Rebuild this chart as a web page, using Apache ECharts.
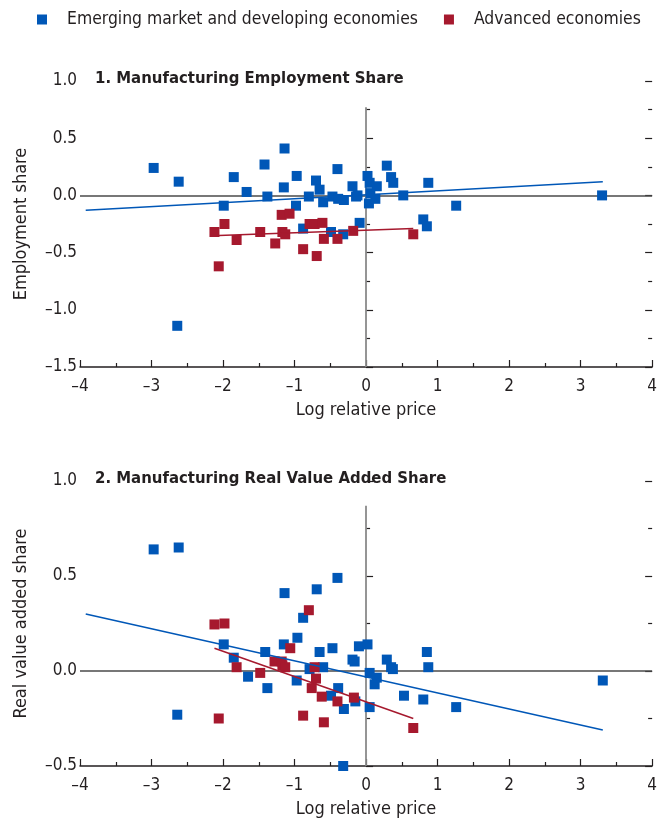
<!DOCTYPE html>
<html><head><meta charset="utf-8">
<script src="https://cdn.jsdelivr.net/npm/echarts@6/dist/echarts.min.js"></script>
<style>html,body{margin:0;padding:0;background:#fff}#c{width:660px;height:825px}</style>
</head><body><div id="c"></div>
<script>
// ---- data ----
const seriesNames = ['Emerging market and developing economies', 'Advanced economies'];
const panelTitles = ['1. Manufacturing Employment Share', '2. Manufacturing Real Value Added Share'];
const yNames = ['Employment share', 'Real value added share'];
const xName = 'Log relative price';

const empEM = [[-2.97,0.24],[-2.62,0.12],[-2.64,-1.14],[-1.99,-0.09],[-1.85,0.16],[-1.67,0.03],[-1.42,0.27],[-1.38,-0.01],[-1.14,0.41],[-1.15,0.07],[-0.97,0.17],[-0.98,-0.09],[-0.88,-0.29],[-0.80,-0.01],[-0.70,0.13],[-0.65,0.05],[-0.60,-0.06],[-0.49,-0.32],[-0.47,-0.01],[-0.40,0.23],[-0.39,-0.03],[-0.32,-0.34],[-0.31,-0.04],[-0.19,0.08],[-0.14,-0.01],[-0.12,0.00],[-0.09,-0.24],[0.02,0.17],[0.05,0.11],[0.06,0.02],[0.04,-0.07],[0.13,-0.03],[0.15,0.08],[0.29,0.26],[0.35,0.16],[0.38,0.11],[0.52,0.00],[0.80,-0.21],[0.85,-0.27],[0.87,0.11],[1.26,-0.09],[3.30,0.00]];
const empAE = [[-2.12,-0.32],[-1.98,-0.25],[-1.81,-0.39],[-2.06,-0.62],[-1.48,-0.32],[-1.27,-0.42],[-1.18,-0.17],[-1.07,-0.16],[-1.17,-0.32],[-1.13,-0.34],[-0.88,-0.47],[-0.79,-0.25],[-0.72,-0.25],[-0.61,-0.24],[-0.69,-0.53],[-0.59,-0.38],[-0.40,-0.38],[-0.18,-0.31],[0.66,-0.34]];
const empEMfit = [[-3.92,-0.13],[3.31,0.12]];
const empAEfit = [[-2.06,-0.35],[0.66,-0.29]];

const vaEM = [[-2.97,0.64],[-2.62,0.65],[-2.64,-0.23],[-1.99,0.14],[-1.85,0.07],[-1.65,-0.03],[-1.41,0.10],[-1.38,-0.09],[-1.14,0.41],[-1.15,0.14],[-0.96,0.175],[-0.97,-0.05],[-0.88,0.28],[-0.79,0.01],[-0.69,0.43],[-0.65,0.10],[-0.60,0.02],[-0.49,-0.13],[-0.47,0.12],[-0.40,0.49],[-0.39,-0.09],[-0.32,-0.50],[-0.31,-0.20],[-0.19,0.06],[-0.16,0.05],[-0.15,-0.16],[-0.10,0.13],[0.02,0.14],[0.05,-0.01],[0.05,-0.19],[0.12,-0.07],[0.15,-0.035],[0.29,0.06],[0.35,0.02],[0.375,0.01],[0.53,-0.13],[0.80,-0.15],[0.85,0.10],[0.87,0.02],[1.26,-0.19],[3.31,-0.05]];
const vaAE = [[-2.12,0.245],[-1.98,0.25],[-1.81,0.02],[-2.06,-0.25],[-1.48,-0.01],[-1.28,0.05],[-1.18,0.05],[-1.17,0.03],[-1.13,0.02],[-1.06,0.12],[-0.88,-0.235],[-0.80,0.32],[-0.76,-0.09],[-0.70,-0.04],[-0.72,0.02],[-0.62,-0.135],[-0.59,-0.27],[-0.40,-0.16],[-0.17,-0.14],[0.66,-0.30]];
const vaEMfit = [[-3.92,0.30],[3.31,-0.31]];
const vaAEfit = [[-2.12,0.12],[0.66,-0.25]];

const xRange = [-4, 4];
const yRanges = [[-1.5, 1.0], [-0.5, 1.0]];
const vLineTop = [0.77, 0.87];

// ---- styles ----
const FF = "'Liberation Sans Narrow','DejaVu Sans Condensed','Roboto Condensed',sans-serif";
const TXT = '#231f20';
const BLUE = '#0057b7';
const RED = '#a6192e';
const fmtY = v => v.toFixed(1).replace('-', '\u2013');
const fmtX = v => String(v).replace('-', '\u2013');

const grids = [
  {left: 80, right: 4, top: 81, height: 286},
  {left: 80, right: 4, top: 481, height: 285}
];

function xAxis(gi) {
  return {
    type: 'value', gridIndex: gi, min: xRange[0], max: xRange[1], interval: 1,
    axisLine: {show: true, onZero: false, lineStyle: {color: TXT, width: 1.5}},
    axisTick: {show: true, inside: true, length: 7, lineStyle: {color: TXT, width: 1.2}},
    minorTick: {show: true, splitNumber: 2, length: 4, lineStyle: {color: TXT, width: 1.2}},
    splitLine: {show: false}, minorSplitLine: {show: false},
    axisLabel: {fontSize: 17, color: TXT, margin: 11, fontFamily: FF, formatter: fmtX},
    name: xName, nameLocation: 'middle', nameGap: 34,
    nameTextStyle: {fontSize: 18, color: TXT, fontFamily: FF}
  };
}
function yAxis(gi) {
  return {
    type: 'value', gridIndex: gi, min: yRanges[gi][0], max: yRanges[gi][1], interval: 0.5,
    axisLine: {show: false},
    axisTick: {show: true, inside: true, length: 7, lineStyle: {color: TXT, width: 1.2}},
    minorTick: {show: true, splitNumber: 2, length: 4, lineStyle: {color: TXT, width: 1.2}},
    splitLine: {show: false}, minorSplitLine: {show: false},
    axisLabel: {fontSize: 17, color: TXT, margin: 3, fontFamily: FF, formatter: fmtY},
    name: yNames[gi], nameLocation: 'middle', nameGap: 50,
    nameTextStyle: {fontSize: 18, color: TXT, fontFamily: FF}
  };
}
function yAxisRight(gi) {
  return {
    type: 'value', gridIndex: gi, position: 'right', min: yRanges[gi][0], max: yRanges[gi][1], interval: 0.5,
    axisLine: {show: false},
    axisTick: {show: true, inside: true, length: 7, lineStyle: {color: TXT, width: 1.2}},
    minorTick: {show: true, splitNumber: 2, length: 4, lineStyle: {color: TXT, width: 1.2}},
    splitLine: {show: false}, minorSplitLine: {show: false},
    axisLabel: {show: false}
  };
}

function refLines(gi) {
  return {
    type: 'line', xAxisIndex: gi, yAxisIndex: gi, data: [], z: 1, silent: true,
    markLine: {
      silent: true, symbol: 'none', animation: false, z: 1,
      label: {show: false},
      data: [
        {yAxis: 0, lineStyle: {color: '#4a4a4a', width: 1.6, type: 'solid'}},
        [{coord: [0, vLineTop[gi]], lineStyle: {color: '#8a8a8a', width: 1.8, type: 'solid'}}, {coord: [0, yRanges[gi][0]]}]
      ]
    }
  };
}
function scatter(gi, name, data, color) {
  return {type: 'scatter', name, xAxisIndex: gi, yAxisIndex: gi, data, symbol: 'rect', symbolSize: 10,
    itemStyle: {color, opacity: 1}, z: 3};
}
function fit(gi, data, color) {
  return {type: 'line', name: 'fit', xAxisIndex: gi, yAxisIndex: gi, data, symbol: 'none',
    lineStyle: {color, width: 1.5}, z: 4, silent: true};
}

const option = {
  animation: false,
  backgroundColor: '#fff',
  textStyle: {fontFamily: FF},
  title: [
    {text: panelTitles[0], left: 95, top: 70, padding: 0, textStyle: {fontSize: 16.6, fontWeight: 'bold', color: TXT, fontFamily: FF}},
    {text: panelTitles[1], left: 95, top: 470, padding: 0, textStyle: {fontSize: 16.6, fontWeight: 'bold', color: TXT, fontFamily: FF}}
  ],
  legend: {
    data: seriesNames, top: 11, left: 37, width: 623, padding: 0, itemGap: 26,
    orient: 'horizontal',
    icon: 'rect', itemWidth: 10, itemHeight: 10,
    textStyle: {fontSize: 17.4, color: TXT, fontFamily: FF, padding: [0, 0, 0, 15]}
  },
  grid: grids,
  xAxis: [xAxis(0), xAxis(1)],
  yAxis: [yAxis(0), yAxis(1), yAxisRight(0), yAxisRight(1)],
  series: [
    refLines(0), refLines(1),
    scatter(0, seriesNames[0], empEM, BLUE),
    scatter(0, seriesNames[1], empAE, RED),
    fit(0, empEMfit, BLUE), fit(0, empAEfit, RED),
    scatter(1, seriesNames[0], vaEM, BLUE),
    scatter(1, seriesNames[1], vaAE, RED),
    fit(1, vaEMfit, BLUE), fit(1, vaAEfit, RED)
  ]
};
const chart = echarts.init(document.getElementById('c'), null, {renderer: 'canvas'});
chart.setOption(option);
</script></body></html>
